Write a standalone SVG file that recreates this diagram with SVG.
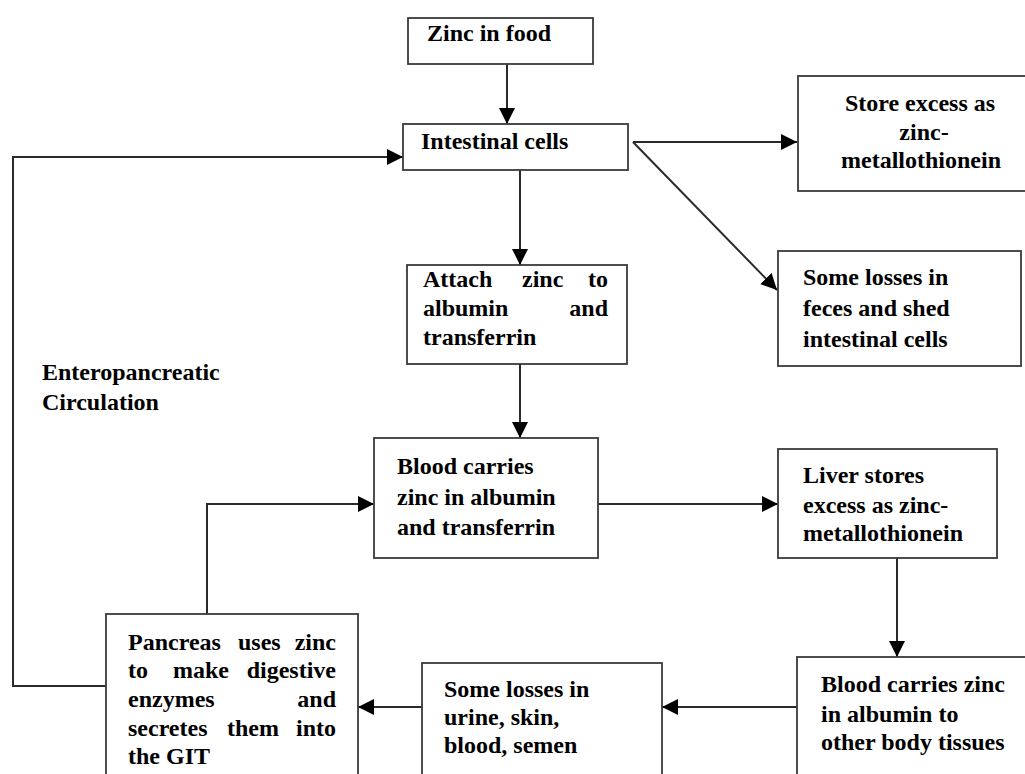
<svg xmlns="http://www.w3.org/2000/svg" width="1025" height="774" viewBox="0 0 1025 774">
<style>
.box{fill:#fff;stroke:#3a3a3a;stroke-width:1.8}
.ln{fill:none;stroke:#2a2a2a;stroke-width:2}
</style>
<defs>
<marker id="ah" viewBox="0 0 16 16" refX="16" refY="8" markerWidth="16" markerHeight="16" markerUnits="userSpaceOnUse" orient="auto">
<path d="M0,0 L16,8 L0,16 z" fill="#000"/>
</marker>
</defs>
<rect width="1025" height="774" fill="#fff"/>
<g id="connectors">
<line class="ln" x1="507" y1="64" x2="507" y2="124" marker-end="url(#ah)"/>
<line class="ln" x1="633" y1="142" x2="797" y2="142" marker-end="url(#ah)"/>
<line class="ln" x1="633" y1="142" x2="777" y2="290" marker-end="url(#ah)"/>
<line class="ln" x1="520" y1="170" x2="520" y2="265" marker-end="url(#ah)"/>
<line class="ln" x1="520" y1="364" x2="520" y2="438" marker-end="url(#ah)"/>
<line class="ln" x1="598" y1="504" x2="778" y2="504" marker-end="url(#ah)"/>
<line class="ln" x1="897" y1="558" x2="897" y2="657" marker-end="url(#ah)"/>
<line class="ln" x1="797" y1="707" x2="662" y2="707" marker-end="url(#ah)"/>
<line class="ln" x1="422" y1="707" x2="358" y2="707" marker-end="url(#ah)"/>
<polyline class="ln" points="207,614 207,504 374,504" marker-end="url(#ah)"/>
<polyline class="ln" points="106,686 13,686 13,157 403,157" marker-end="url(#ah)"/>
</g>
<g font-family="Liberation Serif, Times New Roman, serif" font-weight="bold" font-size="24" fill="#000">
<g id="zinc-food">
<rect class="box" x="408" y="18" width="185" height="46"/>
<text x="427" y="41">Zinc in food</text>
</g>
<g id="intestinal-cells">
<rect class="box" x="403" y="124" width="225" height="46"/>
<text x="421" y="149">Intestinal cells</text>
</g>
<g id="store-excess">
<rect class="box" x="798" y="76" width="240" height="115"/>
<text x="920" y="111" text-anchor="middle">Store excess as</text>
<text x="924" y="140" text-anchor="middle">zinc-</text>
<text x="921" y="168" text-anchor="middle">metallothionein</text>
</g>
<g id="losses-feces">
<rect class="box" x="778" y="251" width="243" height="115"/>
<text x="803" y="285">Some losses in</text>
<text x="803" y="316">feces and shed</text>
<text x="803" y="347">intestinal cells</text>
</g>
<g id="attach-zinc">
<rect class="box" x="407" y="265" width="220" height="99"/>
<text x="423" y="287">Attach</text>
<text x="522" y="287">zinc</text>
<text x="608" y="287" text-anchor="end">to</text>
<text x="423" y="316">albumin</text>
<text x="608" y="316" text-anchor="end">and</text>
<text x="423" y="345">transferrin</text>
</g>
<g id="enteropancreatic-label">
<text x="42" y="380">Enteropancreatic</text>
<text x="42" y="410">Circulation</text>
</g>
<g id="blood-carries">
<rect class="box" x="374" y="438" width="224" height="120"/>
<text x="397" y="474">Blood carries</text>
<text x="397" y="505">zinc in albumin</text>
<text x="397" y="535">and transferrin</text>
</g>
<g id="liver-stores">
<rect class="box" x="778" y="449" width="219" height="109"/>
<text x="803" y="483">Liver stores</text>
<text x="803" y="513">excess as zinc-</text>
<text x="803" y="541">metallothionein</text>
</g>
<g id="blood-carries-tissues">
<rect class="box" x="797" y="657" width="240" height="130"/>
<text x="821" y="692">Blood carries zinc</text>
<text x="821" y="722">in albumin to</text>
<text x="821" y="750">other body tissues</text>
</g>
<g id="losses-urine">
<rect class="box" x="422" y="663" width="240" height="125"/>
<text x="444" y="697">Some losses in</text>
<text x="444" y="725">urine, skin,</text>
<text x="444" y="753">blood, semen</text>
</g>
<g id="pancreas">
<rect class="box" x="106" y="614" width="252" height="175"/>
<text x="128" y="650">Pancreas</text>
<text x="238" y="650">uses</text>
<text x="336" y="650" text-anchor="end">zinc</text>
<text x="128" y="678">to</text>
<text x="173" y="678">make</text>
<text x="336" y="678" text-anchor="end">digestive</text>
<text x="128" y="707">enzymes</text>
<text x="336" y="707" text-anchor="end">and</text>
<text x="128" y="736">secretes</text>
<text x="227" y="736">them</text>
<text x="336" y="736" text-anchor="end">into</text>
<text x="128" y="764">the GIT</text>
</g>
</g>
</svg>
